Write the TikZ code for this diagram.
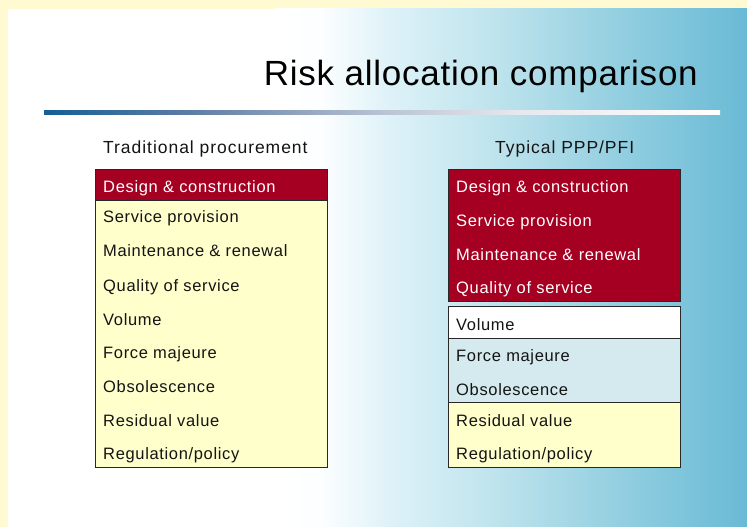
\documentclass[tikz,border=0pt]{standalone}
\usepackage{fontspec}
\setmainfont{Liberation Sans}
\newfontfamily\rowfont[LetterSpace=4]{Liberation Sans}
\newfontfamily\headfont[LetterSpace=5.5]{Liberation Sans}
\newfontfamily\titlefont[LetterSpace=2.2]{Liberation Sans}
\definecolor{bgyellow}{RGB}{255,250,210}
\definecolor{riskred}{RGB}{165,0,33}
\definecolor{cellyellow}{RGB}{255,255,204}
\definecolor{cellblue}{RGB}{212,234,238}
\definecolor{txt}{RGB}{20,20,20}
\pgfdeclarehorizontalshading{bgshade}{100bp}{%
  color(0bp)=(white); color(25bp)=(white);
  color(30bp)=({rgb,255:red,252;green,254;blue,255});
  color(37bp)=({rgb,255:red,222;green,242;blue,248});
  color(50bp)=({rgb,255:red,185;green,225;blue,235});
  color(62bp)=({rgb,255:red,145;green,206;blue,224});
  color(75bp)=({rgb,255:red,105;green,186;blue,213});
  color(100bp)=({rgb,255:red,105;green,186;blue,213})}
\pgfdeclarehorizontalshading{lineshade}{100bp}{%
  color(0bp)=({rgb,255:red,20;green,95;blue,150});
  color(25bp)=({rgb,255:red,20;green,95;blue,150});
  color(36bp)=({rgb,255:red,95;green,125;blue,165});
  color(50bp)=({rgb,255:red,185;green,195;blue,210});
  color(60bp)=({rgb,255:red,230;green,232;blue,238});
  color(75bp)=(white); color(100bp)=(white)}
\tikzset{
  rowtext/.style={anchor=base west, inner sep=0pt, font=\rowfont\fontsize{16.5}{18}\selectfont, text=txt},
  redtext/.style={rowtext, text=white},
  headtext/.style={anchor=base west, inner sep=0pt, font=\headfont\fontsize{17.5}{20}\selectfont, text=txt},
  cell/.style={draw={rgb,255:red,40;green,40;blue,40}, line width=0.9pt}
}
\begin{document}
\begin{tikzpicture}[x=1pt,y=-1pt]
\useasboundingbox (0,0) rectangle (747,527);
% background
\fill[bgyellow] (0,0) rectangle (747,527);
\fill[white] (8,9) rectangle (747,527);
\shade[shading=bgshade] (275,9) rectangle (747,527);
% title and rule
\node[anchor=base east, inner sep=0pt, font=\titlefont\fontsize{35}{40}\selectfont, text=black] (title) at (698,85) {Risk allocation comparison};
\shade[shading=lineshade] (44,110) rectangle (720,114);
% headers
\node[headtext] (hleft) at (103,153) {Traditional procurement};
\node[headtext] (hright) at (495,153) {Typical PPP/PFI};
% left table
\path[cell, fill=cellyellow] (95,169) rectangle (327,467);
\path[cell, fill=riskred] (95,169) rectangle (327,200);
\node[redtext] (l1) at (103,192) {Design \& construction};
\node[rowtext] (l2) at (103,222) {Service provision};
\node[rowtext] (l3) at (103,256) {Maintenance \& renewal};
\node[rowtext] (l4) at (103,291) {Quality of service};
\node[rowtext] (l5) at (103,325) {Volume};
\node[rowtext] (l6) at (103,358) {Force majeure};
\node[rowtext] (l7) at (103,392) {Obsolescence};
\node[rowtext] (l8) at (103,426) {Residual value};
\node[rowtext] (l9) at (103,459) {Regulation/policy};
% right table
\path[cell, fill=riskred] (448,169) rectangle (680,301);
\path[cell, fill=white] (448,306) rectangle (680,338);
\path[cell, fill=cellblue] (448,338) rectangle (680,402);
\path[cell, fill=cellyellow] (448,402) rectangle (680,467);
\node[redtext] (r1) at (456,192) {Design \& construction};
\node[redtext] (r2) at (456,226) {Service provision};
\node[redtext] (r3) at (456,260) {Maintenance \& renewal};
\node[redtext] (r4) at (456,293) {Quality of service};
\node[rowtext] (r5) at (456,330) {Volume};
\node[rowtext] (r6) at (456,361) {Force majeure};
\node[rowtext] (r7) at (456,395) {Obsolescence};
\node[rowtext] (r8) at (456,426) {Residual value};
\node[rowtext] (r9) at (456,459) {Regulation/policy};
\end{tikzpicture}
\end{document}
